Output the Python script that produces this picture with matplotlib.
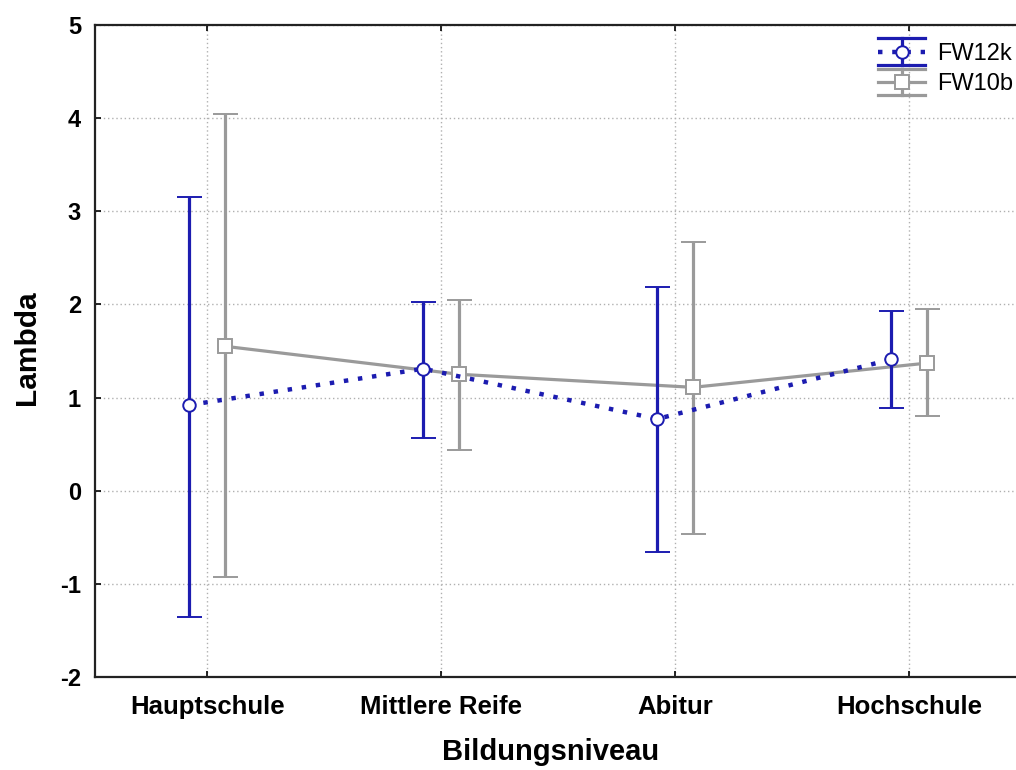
import matplotlib
matplotlib.use("Agg")
import matplotlib.pyplot as plt
import numpy as np
from matplotlib.legend_handler import HandlerBase
from matplotlib.lines import Line2D

categories = ["Hauptschule", "Mittlere Reife", "Abitur", "Hochschule"]
series_names = ["FW12k", "FW10b"]
fw12_mean = [0.92, 1.31, 0.77, 1.41]
fw12_upper = [3.15, 2.03, 2.19, 1.93]
fw12_lower = [-1.36, 0.57, -0.66, 0.89]
fw10_mean = [1.55, 1.25, 1.11, 1.37]
fw10_upper = [4.04, 2.05, 2.67, 1.95]
fw10_lower = [-0.93, 0.44, -0.46, 0.80]
y_ticks = [-2, -1, 0, 1, 2, 3, 4, 5]

blue = "#1c1cb0"
gray = "#9a9a9a"

plt.rcParams['font.family'] = ['Liberation Sans', 'DejaVu Sans']


class WideCapHandler(HandlerBase):
    def __init__(self, style, **kw):
        super().__init__(**kw)
        self.style = style

    def create_artists(self, legend, orig_handle, xdescent, ydescent, width, height,
                       fontsize, trans):
        st = self.style
        yc = height / 2 - ydescent
        h = 9.5
        x0, x1 = -xdescent, -xdescent + width
        xm = (x0 + x1) / 2
        arts = []
        arts.append(Line2D([x0, x1], [yc, yc], color=st['color'], lw=st['lw'], linestyle=st['ls']))
        arts.append(Line2D([xm, xm], [yc - h, yc + h], color=st['color'], lw=2.3))
        arts.append(Line2D([x0, x1], [yc + h, yc + h], color=st['color'], lw=2.3))
        arts.append(Line2D([x0, x1], [yc - h, yc - h], color=st['color'], lw=2.3))
        arts.append(Line2D([xm], [yc], marker=st['marker'], markersize=st['ms'],
                           markerfacecolor='white', markeredgecolor=st['color'],
                           markeredgewidth=1.4, linestyle='none'))
        for a in arts:
            a.set_transform(trans)
        return arts


fig = plt.figure(figsize=(10.16, 7.70), dpi=100)
ax = fig.add_axes([95/1016, 93/770, 931/1016, 652/770])

x = np.arange(len(categories))
off = 0.077

m1 = np.array(fw12_mean); m2 = np.array(fw10_mean)
e1 = [m1 - np.array(fw12_lower), np.array(fw12_upper) - m1]
e2 = [m2 - np.array(fw10_lower), np.array(fw10_upper) - m2]

c1 = ax.errorbar(x - off, m1, yerr=e1, color=blue, lw=3.2, linestyle=(0, (1, 2.2)),
                 elinewidth=2.3, capsize=9, capthick=2.3, ecolor=blue,
                 marker='o', markersize=9, markerfacecolor='white', markeredgecolor=blue,
                 markeredgewidth=1.4, label=series_names[0], zorder=4)
c2 = ax.errorbar(x + off, m2, yerr=e2, color=gray, lw=2.3, linestyle='-',
                 elinewidth=2.3, capsize=9, capthick=2.3, ecolor=gray,
                 marker='s', markersize=10, markerfacecolor='white', markeredgecolor=gray,
                 markeredgewidth=1.4, label=series_names[1], zorder=3)

ax.set_xlim(-0.48, 3.5)
ax.set_ylim(-2, 5)
ax.set_xticks(x)
ax.set_xticklabels(categories, fontsize=18.5, fontweight='bold')
ax.set_yticks(y_ticks)
ax.set_yticklabels([str(t) for t in y_ticks], fontsize=17, fontweight='bold')
ax.tick_params(direction='in', length=4, width=1.2, top=True, right=False)
ax.tick_params(axis='x', pad=13)
ax.tick_params(axis='y', pad=10)
ax.grid(True, linestyle=(0, (1, 2)), color='#b0b0b0', lw=1)
ax.set_axisbelow(True)
for s in ax.spines.values():
    s.set_linewidth(1.6)
    s.set_color('#222222')

ax.set_xlabel("Bildungsniveau", fontsize=21, fontweight='bold')
ax.set_ylabel("Lambda", fontsize=21.5, fontweight='bold')
ax.xaxis.set_label_coords(0.489, -0.093)
ax.yaxis.set_label_coords(-0.058, 0.505)

leg = fig.legend(handles=[c1, c2], labels=series_names, loc='upper left',
                 bbox_to_anchor=(878/1016, 1 - 41/770), frameon=False,
                 fontsize=17, handlelength=2.0, handleheight=1.0, handletextpad=0.5,
                 labelspacing=0.3, borderaxespad=0, borderpad=0,
                 handler_map={c1: WideCapHandler(dict(color=blue, lw=3.2, ls=(0, (1, 2.2)),
                                                      marker='o', ms=9)),
                              c2: WideCapHandler(dict(color=gray, lw=2.3, ls='-',
                                                      marker='s', ms=10))})

fig.savefig("out.png", dpi=100)
